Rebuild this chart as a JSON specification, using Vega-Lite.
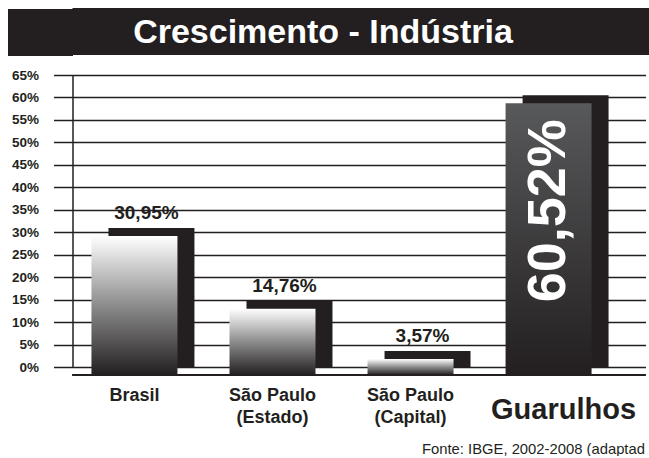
{
  "$schema": "https://vega.github.io/schema/vega-lite/v6.json",
  "padding": {"left": -16.5, "top": 8, "right": 0, "bottom": 0},
  "background": "white",
  "config": {"font": "Liberation Sans", "view": {"stroke": null}},
  "spacing": 12,
  "vconcat": [
    {
      "width": 577,
      "height": 47,
      "view": {"fill": "#231f20", "stroke": null},
      "data": {"values": [{"titulo": "Crescimento - Indústria"}]},
      "mark": {"type": "text", "color": "white", "fontSize": 34, "fontWeight": "bold", "baseline": "middle", "align": "center", "dx": -38, "dy": 1},
      "encoding": {
        "text": {"field": "titulo"},
        "y": {
          "datum": 0.5, "type": "quantitative",
          "scale": {"domain": [0, 1], "nice": false},
          "axis": {"values": [0.5], "labels": false, "domain": false, "grid": false, "title": null,
            "tickSize": 65, "tickWidth": 47, "tickColor": "#231f20", "tickCap": "butt"}
        }
      }
    },
    {
      "width": 573,
      "height": 292,
      "data": {"values": [
        {"regiao": "Brasil", "valor": 30.95, "rotulo": "30,95%"},
        {"regiao": "São Paulo (Estado)", "valor": 14.76, "rotulo": "14,76%"},
        {"regiao": "São Paulo (Capital)", "valor": 3.57, "rotulo": "3,57%"},
        {"regiao": "Guarulhos", "valor": 60.52, "rotulo": "60,52%"}
      ]},
      "encoding": {
        "x": {
          "field": "regiao", "type": "nominal", "sort": null,
          "scale": {"paddingInner": 0.377, "paddingOuter": 0.264, "align": 0.26},
          "axis": {
            "title": "Fonte: IBGE, 2002-2008 (adaptad",
            "titleFont": "Liberation Sans", "titleFontWeight": "normal", "titleFontSize": 14.8, "titleColor": "#231f20",
            "titleX": 349, "titleY": 86, "titleAlign": "left", "titleBaseline": "alphabetic",
            "domain": false, "ticks": false, "grid": false,
            "labelAngle": 0, "labelColor": "#231f20", "labelFontWeight": "bold",
            "labelFontSize": {"condition": {"test": "datum.value == 'Guarulhos'", "value": 29}, "value": 18},
            "labelOffset": {"condition": {"test": "datum.value == 'Guarulhos'", "value": 15}, "value": 0},
            "labelPadding": {"condition": {"test": "datum.value == 'Guarulhos'", "value": 28}, "value": 19},
            "labelLineHeight": 22, "labelBaseline": "top",
            "labelExpr": "indexof(datum.label, '(') > 0 ? ['São Paulo', slice(datum.label, 10)] : datum.label"
          }
        },
        "y": {
          "field": "valor", "type": "quantitative",
          "scale": {"domain": [0, 65], "nice": false},
          "axis": {
            "title": null, "values": [0,5,10,15,20,25,30,35,40,45,50,55,60,65],
            "labelExpr": "datum.value + '%'", "labelFontWeight": "bold", "labelFontSize": 13.5,
            "labelColor": "#231f20", "labelPadding": 15,
            "tickSize": 19, "tickColor": "#231f20", "tickWidth": 1.5,
            "domainColor": "#231f20", "domainWidth": 1.5,
            "grid": true, "gridColor": "#231f20", "gridWidth": 1.5, "gridOpacity": 1
          }
        }
      },
      "layer": [
        {
          "mark": {"type": "bar", "color": "#231f20", "xOffset": 17},
          "encoding": {}
        },
        {
          "transform": [{"filter": "datum.regiao != 'Guarulhos'"}],
          "mark": {"type": "bar", "yOffset": 8, "y2Offset": 8,
            "color": {"gradient": "linear", "x1": 0, "y1": 0, "x2": 0, "y2": 1,
              "stops": [{"offset": 0, "color": "#ffffff"}, {"offset": 0.5, "color": "#8c8c8c"}, {"offset": 1, "color": "#231f20"}]}},
          "encoding": {}
        },
        {
          "transform": [{"filter": "datum.regiao == 'Guarulhos'"}],
          "mark": {"type": "bar", "yOffset": 8, "y2Offset": 8,
            "color": {"gradient": "linear", "x1": 0, "y1": 0, "x2": 0, "y2": 1,
              "stops": [{"offset": 0, "color": "#58595b"}, {"offset": 1, "color": "#231f20"}]}},
          "encoding": {}
        },
        {
          "transform": [{"filter": "datum.regiao != 'Guarulhos'"}],
          "mark": {"type": "text", "fontWeight": "bold", "fontSize": 19, "color": "#231f20", "baseline": "alphabetic", "dy": -9, "xOffset": 12},
          "encoding": {"text": {"field": "rotulo"}}
        },
        {
          "transform": [{"filter": "datum.regiao == 'Guarulhos'"}],
          "mark": {"type": "text", "fontWeight": "bold", "fontSize": 54, "color": "white", "angle": 270, "align": "right", "baseline": "middle", "dx": -24},
          "encoding": {"text": {"field": "rotulo"}}
        },
        {
          "mark": {"type": "rule", "color": "#231f20", "strokeWidth": 2, "yOffset": 8},
          "encoding": {"y": {"datum": 0}, "x": null}
        }
      ]
    }
  ]
}
